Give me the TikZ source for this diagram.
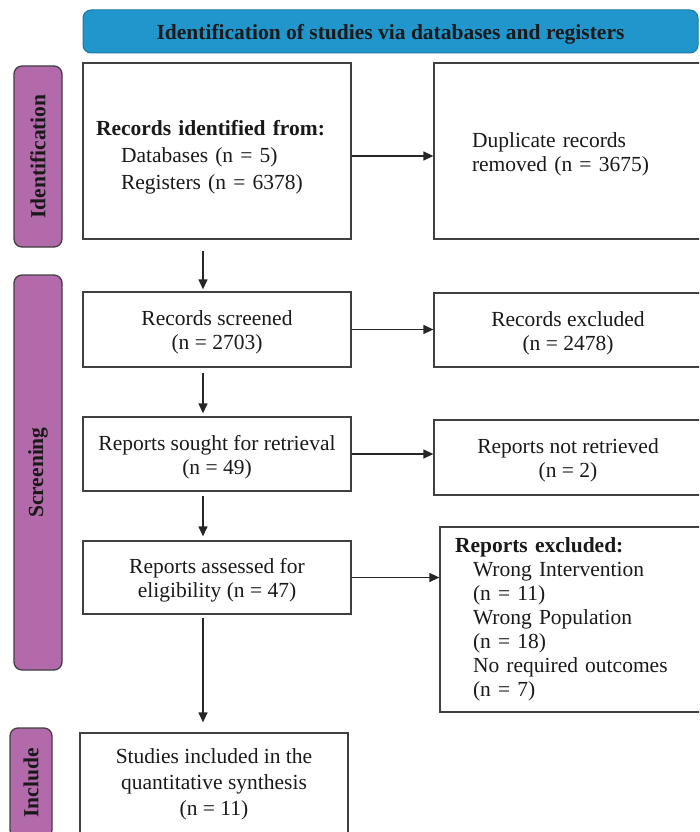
\documentclass[tikz,border=0pt]{standalone}
\usepackage{fontspec}
\setmainfont{Liberation Serif}
\usetikzlibrary{arrows.meta}
\definecolor{bannerblue}{RGB}{33,150,204}
\definecolor{phasepurple}{RGB}{179,106,170}

\begin{document}
\begin{tikzpicture}[x=1pt,y=-1pt,>={Triangle[length=10pt,width=9pt]},
  font=\fontsize{21.5}{24}\selectfont,text=black!90,
  box/.style={draw=black!75,line width=1.3pt,minimum width=268pt,inner sep=0pt,align=center},
  phase/.style={draw=black!75,line width=1.3pt,fill=phasepurple,rounded corners=8pt,rotate=90,minimum height=48pt,inner sep=0pt,font=\fontsize{21.5}{24}\selectfont\bfseries},
  flow/.style={->,draw=black!85,line width=1.3pt}]
\useasboundingbox (0,0) rectangle (699,832);
\clip (0,0) rectangle (699,832);

\node[draw=bannerblue!80!black,line width=1pt,fill=bannerblue,rounded corners=8pt,minimum width=615pt,minimum height=43pt,text height=17pt,text depth=1pt,font=\fontsize{21.5}{24}\selectfont\bfseries] (banner) at (390.5,31.5) {Identification of studies via databases and registers};

\node[phase,minimum width=181pt] (idlbl) at (38,156.5) {Identification};
\node[phase,minimum width=395pt] (scrlbl) at (38,472.5) {Screening};
\node[phase,minimum width=110pt,minimum height=42pt] (inclbl) at (31,783) {Include};

\node[box,minimum height=176pt,text width=242pt,align=left] (ident) at (217,151) {\rule{0pt}{27pt}\textbf{Records identified from:}\\[3pt]\hspace*{25pt}Databases (n = 5)\\[3pt]\hspace*{25pt}Registers (n = 6378)};
\node[box,minimum height=176pt,text width=192pt,align=left] (dup) at (568,151) {\rule{0pt}{21pt}Duplicate records\\removed (n = 3675)};

\node[box,minimum height=75pt] (screened) at (217,329.5) {\rule{0pt}{21pt}Records screened\\(n = 2703)};
\node[box,minimum height=74pt] (excl) at (568,330) {\rule{0pt}{21pt}Records excluded\\(n = 2478)};

\node[box,minimum height=74pt] (sought) at (217,454) {\rule{0pt}{21pt}Reports sought for retrieval\\(n = 49)};
\node[box,minimum height=75pt] (notret) at (568,457.5) {\rule{0pt}{21pt}Reports not retrieved\\(n = 2)};

\node[box,minimum height=73pt] (assessed) at (217,577.5) {\rule{0pt}{21pt}Reports assessed for\\eligibility (n = 47)};
\node[box,minimum height=185pt,text width=238pt,align=left] (repexcl) at (574,619.5) {\textbf{Reports excluded:}\\\hspace*{18pt}Wrong Intervention\\\hspace*{18pt}(n = 11)\\\hspace*{18pt}Wrong Population\\\hspace*{18pt}(n = 18)\\\hspace*{18pt}No required outcomes\\\hspace*{18pt}(n = 7)};

\node[box,minimum height=103pt] (incl) at (214,784.5) {Studies included in the\\[2pt]quantitative synthesis\\[2pt](n = 11)};

\draw[flow] ([yshift=-5pt]ident.east) -- ([yshift=-5pt]ident.east -| dup.west);
\draw[flow] (screened.east) -- (screened.east -| excl.west);
\draw[flow] (sought.east) -- (sought.east -| notret.west);
\draw[flow] (assessed.east) -- (assessed.east -| repexcl.west);

\draw[flow,shorten <=11pt,shorten >=2pt] ([xshift=-14pt]ident.south) -- ([xshift=-14pt]screened.north);
\draw[flow,shorten <=5pt,shorten >=3pt] ([xshift=-14pt]screened.south) -- ([xshift=-14pt]sought.north);
\draw[flow,shorten <=4pt,shorten >=4pt] ([xshift=-14pt]sought.south) -- ([xshift=-14pt]assessed.north);
\draw[flow,shorten <=3pt,shorten >=10pt] ([xshift=-14pt]assessed.south) -- ([xshift=-14pt]assessed.south |- incl.north);
\end{tikzpicture}
\end{document}
